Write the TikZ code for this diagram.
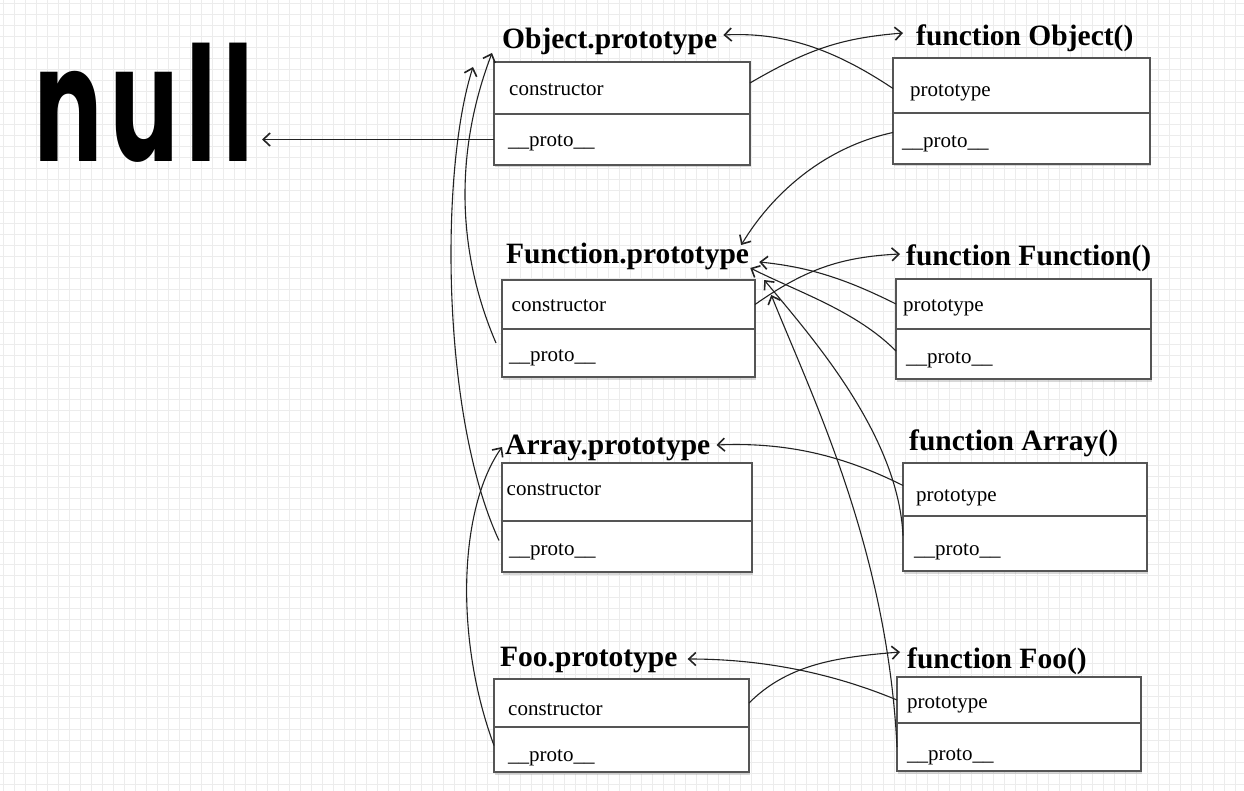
\documentclass[tikz,border=0pt]{standalone}
\usepackage{fontspec}
\setmainfont{Liberation Serif}
\newfontfamily\handface[LetterSpace=8]{Poppins}
\usetikzlibrary{arrows.meta,shadows,calc}
\definecolor{gridc}{HTML}{ECECEC}
\definecolor{boxc}{HTML}{555555}
\definecolor{linec}{HTML}{222222}
\begin{document}
\begin{tikzpicture}[x=1pt,y=-1pt,
  row/.style={draw=boxc, line width=1.4pt, fill=white, inner sep=0pt, outer sep=0pt, anchor=north west,
    drop shadow={shadow xshift=1pt, shadow yshift=-2.5pt, opacity=0.3}},
  titletext/.style={font=\bfseries\fontsize{29.5}{32}\selectfont, inner sep=0pt, anchor=base west, text height=20pt, text depth=6pt},
  rowtext/.style={font=\fontsize{21}{24}\selectfont, inner sep=0pt, anchor=base west},
  conn/.style={draw=linec, line width=1.1pt, -{Straight Barb[length=7pt,width=13pt,line width=1.6pt]}},
  gridline/.style={draw=gridc, line width=0.9pt}]
\useasboundingbox (0,0) rectangle (1244,791);
\fill[white] (0,0) rectangle (1244,791);
\foreach \i in {0,...,113} {\draw[gridline] (\i*11+3,0) -- (\i*11+3,791);}
\foreach \j in {0,...,72} {\draw[gridline] (0,\j*11+3) -- (1244,\j*11+3);}

% null
\node[font=\handface\bfseries\fontsize{160}{160}\selectfont, inner sep=0pt, anchor=base west, xscale=0.63] (null) at (34,162) {null};
\coordinate (nulltip) at (262,140);

% Object.prototype
\node[row, minimum width=256, minimum height=52] (opc) at (494,62) {};
\node[row, minimum width=256, minimum height=51] (opp) at (494,114) {};
\node[titletext] (opt) at (502,49) {Object.prototype};
\node[rowtext] (opct) at (509,95.5) {constructor};
\node[rowtext] (oppt) at (508,146.5) {\_\_proto\_\_};

% function Object()
\node[row, minimum width=257, minimum height=55] (foc) at (893,58) {};
\node[row, minimum width=257, minimum height=51] (fop) at (893,113) {};
\node[titletext] (fot) at (916,46) {function Object()};
\node[rowtext] (foct) at (910,97) {prototype};
\node[rowtext] (fopt) at (902,148) {\_\_proto\_\_};

% Function.prototype
\node[row, minimum width=253, minimum height=49] (Fpc) at (502,280) {};
\node[row, minimum width=253, minimum height=48] (Fpp) at (502,329) {};
\node[titletext] (Fpt) at (506,264) {Function.prototype};
\node[rowtext] (Fpct) at (511.5,311.5) {constructor};
\node[rowtext] (Fppt) at (509,361.5) {\_\_proto\_\_};

% function Function()
\node[row, minimum width=255, minimum height=50] (fFc) at (896,279) {};
\node[row, minimum width=255, minimum height=50] (fFp) at (896,329) {};
\node[titletext] (fFt) at (906,266) {function Function()};
\node[rowtext] (fFct) at (903,311.5) {prototype};
\node[rowtext] (fFpt) at (906,363) {\_\_proto\_\_};

% Array.prototype
\node[row, minimum width=250, minimum height=58] (Apc) at (502,463) {};
\node[row, minimum width=250, minimum height=51] (App) at (502,521) {};
\node[titletext] (Apt) at (505,454) {Array.prototype};
\node[rowtext] (Apct) at (506.5,495) {constructor};
\node[rowtext] (Appt) at (509,555) {\_\_proto\_\_};

% function Array()
\node[row, minimum width=244, minimum height=53] (fAc) at (903,463) {};
\node[row, minimum width=244, minimum height=55] (fAp) at (903,516) {};
\node[titletext] (fAt) at (909,450) {function Array()};
\node[rowtext] (fAct) at (916,501.5) {prototype};
\node[rowtext] (fApt) at (914,555) {\_\_proto\_\_};

% Foo.prototype
\node[row, minimum width=255, minimum height=48] (Foopc) at (494,679) {};
\node[row, minimum width=255, minimum height=45] (Foopp) at (494,727) {};
\node[titletext] (Foopt) at (500,666) {Foo.prototype};
\node[rowtext] (Foopct) at (508,715) {constructor};
\node[rowtext] (Fooppt) at (508,761.5) {\_\_proto\_\_};

% function Foo()
\node[row, minimum width=244, minimum height=46] (fFooc) at (897,677) {};
\node[row, minimum width=244, minimum height=48] (fFoop) at (897,723) {};
\node[titletext] (fFoot) at (907,668) {function Foo()};
\node[rowtext] (fFooct) at (907,708) {prototype};
\node[rowtext] (fFoopt) at (907,760) {\_\_proto\_\_};

% connectors
\draw[conn] (opp.west) -- (nulltip |- opp.west);
\draw[conn] ($(opc.east)+(0,-5)$) .. controls +(60,-35) and +(-60,5) .. ($(fot.west)+(-13,-6)$);
\draw[conn] ($(foc.west)+(0,3)$) .. controls +(-60,-40) and +(60,-3) .. ($(opt.east)+(6,-7)$);
\draw[conn] ($(fop.west)+(0,-6)$) .. controls +(-70,15) and +(30,-50) .. ($(Fpt.east)+(-8,-12)$);
\draw[conn] (Fpc.east) .. controls +(50,-35) and +(-60,3) .. ($(fFt.west)+(-6,-5)$);
\draw[conn] (fFc.west) .. controls +(-50,-25) and +(50,5) .. ($(Fpt.east)+(10,5)$);
\draw[conn] ($(fFp.west)+(0,-3)$) .. controls +(-40,-40) and +(50,25) .. ($(Fpt.east)+(1,11)$);
\draw[conn] ($(fAp.west)+(0,-8)$) .. controls +(-5,-100) and +(50,60) .. ($(Fpt.east)+(15,23)$);
\draw[conn] (fFoop.west) .. controls +(-10,-200) and +(40,100) .. ($(Fpt.east)+(22,38)$);
\draw[conn] ($(fAc.west)+(0,-4)$) .. controls +(-60,-30) and +(70,-3) .. ($(Apt.east)+(6,-2)$);
\draw[conn] (Foopc.east) .. controls +(40,-40) and +(-60,5) .. ($(fFoot.west)+(-7,-9)$);
\draw[conn] (fFooc.west) .. controls +(-60,-25) and +(80,0) .. ($(Foopt.east)+(10,0)$);
\draw[conn] ($(Fpp.west)+(-6,-10)$) .. controls +(-40,-93) and +(-37,97) .. ($(opc.north west)+(-2,-9)$);
\draw[conn] ($(App.west)+(-3,-6)$) .. controls +(-58,-125) and +(-33,103) .. ($(opc.north west)+(-21,5)$);
\draw[conn] ($(Foopp.west)+(0,-4)$) .. controls +(-39,-105) and +(-44,63) .. ($(Apt.west)+(-3,0)$);
\end{tikzpicture}
\end{document}
